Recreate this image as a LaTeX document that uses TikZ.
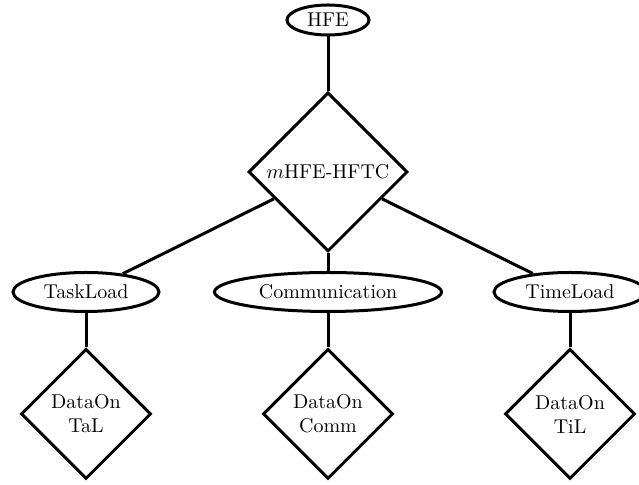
\documentclass[tikz,border=0pt]{standalone}
\usetikzlibrary{shapes.geometric}
\begin{document}
\begin{tikzpicture}[x=1pt,y=1pt,
  every node/.style={line width=1.5pt},
  ell/.style={draw, ellipse, inner sep=0pt, minimum height=19.5pt},
  dia/.style={draw, diamond, inner sep=0pt, align=center},
  conn/.style={line width=1.5pt}]
\useasboundingbox (0,0) rectangle (319.5,-242.5);
\node[ell, minimum width=41pt, minimum height=15pt] (hfe) at (164,-10) {HFE};
\node[dia, minimum width=79.5pt, minimum height=79.5pt] (m) at (164,-86) {$m$HFE-HFTC};
\node[ell, minimum width=73pt] (task) at (43,-146) {TaskLoad};
\node[ell, minimum width=113.5pt] (comm) at (164,-146) {Communication};
\node[ell, minimum width=76pt] (time) at (285,-146) {TimeLoad};
\node[dia, minimum width=65pt, minimum height=65pt] (dtal) at (43,-207) {DataOn\\TaL};
\node[dia, minimum width=65pt, minimum height=65pt] (dcomm) at (164,-207) {DataOn\\Comm};
\node[dia, minimum width=65pt, minimum height=65pt] (dtil) at (285,-207) {DataOn\\TiL};
\draw[conn] (hfe) -- (m);
\draw[conn] (m) -- (task);
\draw[conn] (m) -- (comm);
\draw[conn] (m) -- (time);
\draw[conn] (task) -- (dtal);
\draw[conn] (comm) -- (dcomm);
\draw[conn] (time) -- (dtil);
\end{tikzpicture}
\end{document}
